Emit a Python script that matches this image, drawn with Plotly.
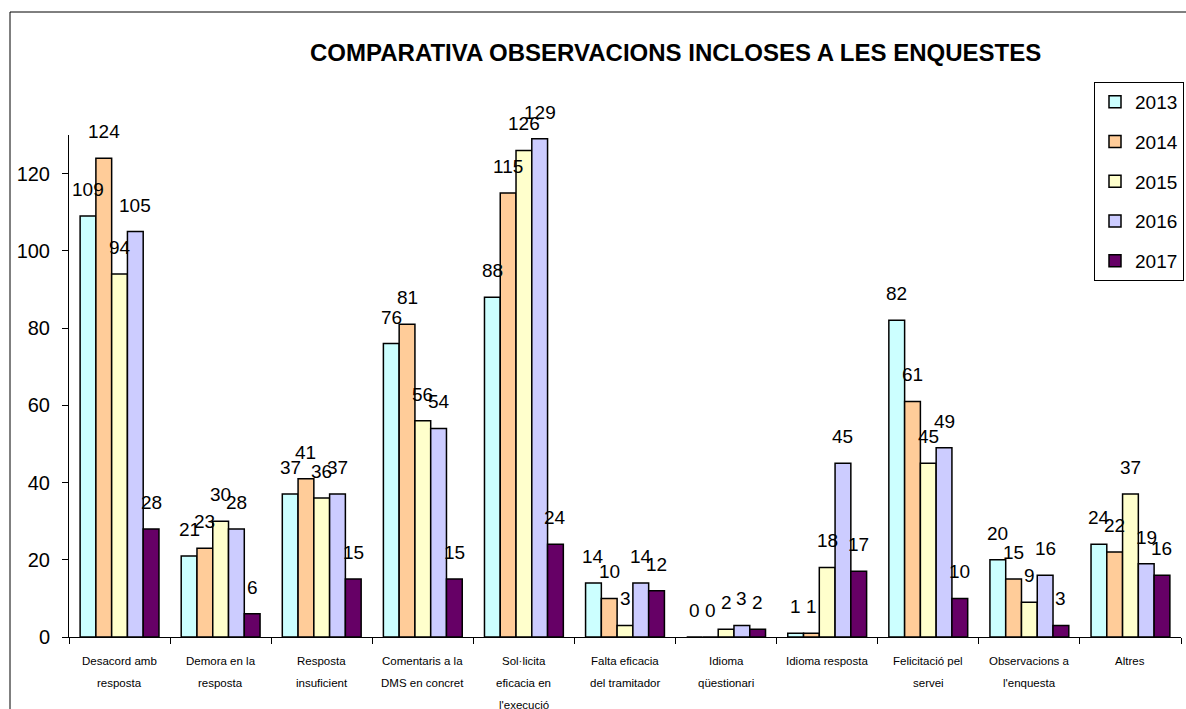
import plotly.graph_objects as go

categories = [
    "Desacord amb|resposta",
    "Demora en la|resposta",
    "Resposta|insuficient",
    "Comentaris a la|DMS en concret",
    "Sol·licita|eficacia en|l'execució",
    "Falta eficacia|del tramitador",
    "Idioma|qüestionari",
    "Idioma resposta",
    "Felicitació pel|servei",
    "Observacions a|l'enquesta",
    "Altres",
]
years = ["2013", "2014", "2015", "2016", "2017"]
values_2013 = [109, 21, 37, 76, 88, 14, 0, 1, 82, 20, 24]
values_2014 = [124, 23, 41, 81, 115, 10, 0, 1, 61, 15, 22]
values_2015 = [94, 30, 36, 56, 126, 3, 2, 18, 45, 9, 37]
values_2016 = [105, 28, 37, 54, 129, 14, 3, 45, 49, 16, 19]
values_2017 = [28, 6, 15, 15, 24, 12, 2, 17, 10, 3, 16]
series = [values_2013, values_2014, values_2015, values_2016, values_2017]
colors = ["#CCFFFF", "#FFCC99", "#FFFFCC", "#CCCCFF", "#660066"]
y_ticks = [0, 20, 40, 60, 80, 100, 120]

keys = [c.replace("|", " ") for c in categories]

L, R, T, B = 69, 5, 135, 72
W, H = 1186, 709
pw, ph = W - L - R, H - T - B
BARGAP = 0.22
bar_px = pw / len(keys) * (1 - BARGAP) / len(years)
FONT = "Liberation Sans, Arial"

fig = go.Figure()
annotations = []
for i, (year, vals, col) in enumerate(zip(years, series, colors)):
    fig.add_trace(go.Bar(
        name=year,
        x=keys,
        y=vals,
        marker=dict(color=col, line=dict(color="black", width=1.5)),
        legendgroup=year,
    ))
    # value labels sit a little above each bar
    offset = (i - (len(years) - 1) / 2) * bar_px
    for key, v in zip(keys, vals):
        annotations.append(dict(
            x=key, y=v, xref="x", yref="y", text=str(v), showarrow=False,
            xanchor="center", yanchor="bottom", xshift=offset, yshift=14,
            font=dict(family=FONT, size=19, color="black"),
        ))

# category labels drawn line by line for wider line spacing
for key, cat in zip(keys, categories):
    for j, line in enumerate(cat.split("|")):
        annotations.append(dict(
            x=key, y=0, xref="x", yref="y",
            text=line, showarrow=False,
            yshift=-24 - 22 * j, yanchor="middle",
            font=dict(family=FONT, size=11.5, color="black"),
        ))

annotations.append(dict(
    x=(675 - L) / pw, y=(637 - 53) / ph, xref="paper", yref="paper",
    text="<b>COMPARATIVA OBSERVACIONS INCLOSES A LES ENQUESTES</b>",
    showarrow=False, xanchor="center", yanchor="middle",
    font=dict(family=FONT, size=24, color="black"),
))

fig.update_layout(
    width=W, height=H,
    margin=dict(l=L, r=R, t=T, b=B, pad=0, autoexpand=False),
    paper_bgcolor="white", plot_bgcolor="white",
    barmode="group", bargap=BARGAP, bargroupgap=0,
    font=dict(family=FONT, color="black"),
    showlegend=True,
    legend=dict(
        xref="container", yref="container",
        x=1094 / W, y=1 - 82 / H, xanchor="left", yanchor="top",
        bordercolor="black", borderwidth=1, bgcolor="white",
        font=dict(size=19), tracegroupgap=12,
        itemwidth=30,
    ),
    annotations=annotations,
    shapes=[dict(
        type="rect", xref="paper", yref="paper",
        x0=(10 - L) / pw, x1=(W + 10 - L) / pw,
        y0=(637 - H - 10) / ph, y1=(637 - 12) / ph,
        line=dict(color="black", width=1),
    )],
    xaxis=dict(
        showticklabels=False, showline=True, linecolor="black", linewidth=1,
        ticks="outside", tickson="boundaries", ticklen=6, tickcolor="black",
        showgrid=False, zeroline=False,
    ),
    yaxis=dict(
        range=[0, 130], tickvals=y_ticks, showline=True, linecolor="black",
        linewidth=1, ticks="outside", ticklen=6, tickcolor="black",
        showgrid=False, zeroline=False, ticklabelstandoff=8,
        tickfont=dict(size=20, family=FONT),
    ),
)

fig.write_html("out.html")
